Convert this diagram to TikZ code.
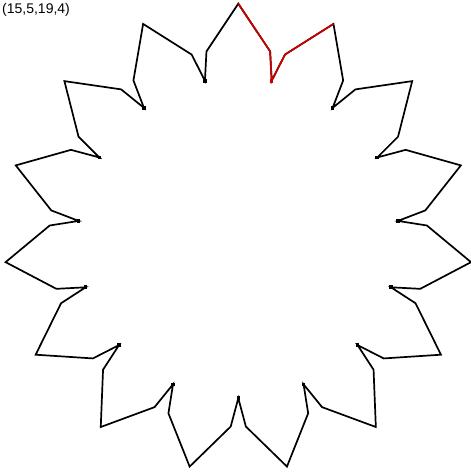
\documentclass[tikz,border=0pt]{standalone}
\usepackage{fontspec}
\setmainfont{Liberation Sans}
\usepackage{tikz}
\definecolor{StarRed}{RGB}{204,0,0}

\begin{document}
\begin{tikzpicture}[x=1pt, y=1pt]
        \useasboundingbox (0,0) rectangle (471,472);

        % Parameter label
        \node[font=\fontsize{14}{16}\selectfont, anchor=north west, inner sep=0pt]
              (label) at (2,469) {(15,5,19,4)};

        \begin{scope}[shift={(238.3,234.3)}, line width=1.7pt]
          % Star outline, one tooth per step of 24 degrees
          \draw (90:234) \foreach \k in {0,...,14} {
            -- ({80.3-24*\k}:189) -- ({78-24*\k}:160.5)
            -- ({75.7-24*\k}:189) -- ({66-24*\k}:234) } -- cycle;

          % Inner corners
          \foreach \k in {1,...,14} {
            \fill ({78-24*\k}:160.5) +(-1.8,-1.8) rectangle +(1.8,1.8);
          }

          % First tooth
          \draw[StarRed]
            (90:234) -- (80.3:189) -- (78:160.5) -- (75.7:189) -- (66:234);
          \fill[StarRed] (78:160.5) +(-1.8,-1.8) rectangle +(1.8,1.8);
        \end{scope}
      \end{tikzpicture}
\end{document}
